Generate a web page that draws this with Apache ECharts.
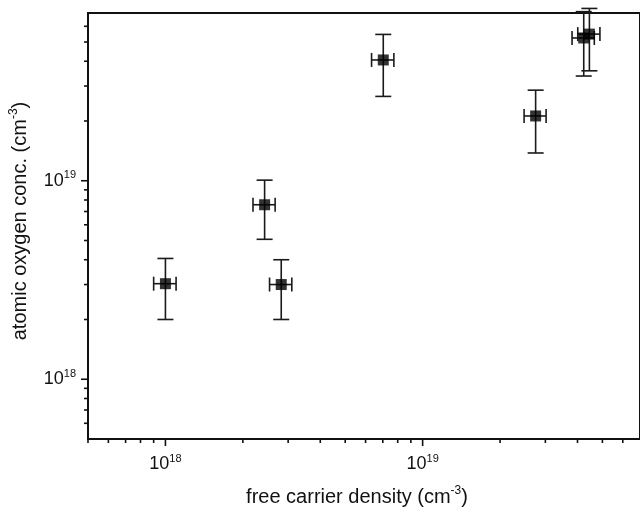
<!DOCTYPE html>
<html><head><meta charset="utf-8">
<script src="https://cdn.jsdelivr.net/npm/echarts@6/dist/echarts.min.js"></script>
<style>html,body{margin:0;padding:0;background:#fff}#c{width:640px;height:514px}</style>
</head><body><div id="c"></div>
<script>
// ---- data ----
const carrierDensity = [1.0e18, 2.43e18, 2.82e18, 7.03e18, 2.75e19, 4.23e19, 4.45e19];
const oxygenConc     = [3.03e18, 7.57e18, 3.0e18, 4.06e19, 2.12e19, 5.24e19, 5.48e19];
const carrierErr     = [0.1e18, 0.24e18, 0.28e18, 0.7e18, 0.27e19, 0.42e19, 0.44e19];
const oxygenErr      = [1.03e18, 2.5e18, 1.0e18, 1.4e19, 0.74e19, 1.87e19, 1.9e19];
const xMin = 5e17, xMax = 7e19, yMin = 5e17, yMax = 7e19;
const xMajorTicks = [1e18, 1e19];
const xMinorTicks = [5e17,6e17,7e17,8e17,9e17,2e18,3e18,4e18,5e18,6e18,7e18,8e18,9e18,2e19,3e19,4e19,5e19,6e19];
const yMajorTicks = [1e18, 1e19];
const yMinorTicks = [6e17,7e17,8e17,9e17,2e18,3e18,4e18,5e18,6e18,7e18,8e18,9e18,2e19,3e19,4e19,5e19,6e19];
const xTitle = ['free carrier density (cm', '-3', ')'];
const yTitle = ['atomic oxygen conc. (cm', '-3', ')'];

const FONT = '"Liberation Sans", Arial, sans-serif';
const INK = '#111';

function powLabel(v) {
  const l = Math.log10(v), e = Math.round(l);
  if (Math.abs(l - e) > 1e-6) return '';
  return '{b|10}{s|' + e + '}';
}
const labelRich = {
  b: {fontSize: 18, fontFamily: FONT, color: INK},
  s: {fontSize: 11, fontFamily: FONT, color: INK, padding: [0, 0, 11, 0]}
};
const nameRich = {
  t: {fontSize: 20, fontFamily: FONT, color: INK},
  s: {fontSize: 12, fontFamily: FONT, color: INK, padding: [0, 0, 13, 0]}
};

const points = carrierDensity.map((x, i) => [x, oxygenConc[i], carrierErr[i], oxygenErr[i]]);
const tickData = [];
xMajorTicks.forEach(v => tickData.push([v, yMin, 0, 1]));
xMinorTicks.forEach(v => tickData.push([v, yMin, 0, 0]));
yMajorTicks.forEach(v => tickData.push([xMin, v, 1, 1]));
yMinorTicks.forEach(v => tickData.push([xMin, v, 1, 0]));

const chart = echarts.init(document.getElementById('c'));
chart.setOption({
  animation: false,
  backgroundColor: '#fff',
  grid: {left: 86, top: 13, right: -6, bottom: 75, show: true, borderColor: INK, borderWidth: 2, backgroundColor: 'transparent'},
  xAxis: {
    type: 'log', logBase: 10, min: xMin, max: xMax,
    axisLine: {show: true, lineStyle: {color: INK, width: 2}},
    axisTick: {show: false}, splitLine: {show: false},
    axisLabel: {formatter: powLabel, rich: labelRich, margin: 14, showMinLabel: false, showMaxLabel: false},
    name: '{t|' + xTitle[0] + '}{s|' + xTitle[1] + '}{t|' + xTitle[2] + '}',
    nameLocation: 'middle', nameGap: 46,
    nameTextStyle: {rich: nameRich, padding: [0, 14, 0, 0]}
  },
  yAxis: {
    type: 'log', logBase: 10, min: yMin, max: yMax,
    axisLine: {show: true, lineStyle: {color: INK, width: 2}},
    axisTick: {show: false}, splitLine: {show: false},
    axisLabel: {formatter: powLabel, rich: labelRich, margin: 12, showMinLabel: false, showMaxLabel: false},
    name: '{t|' + yTitle[0] + '}{s|' + yTitle[1] + '}{t|' + yTitle[2] + '}',
    nameLocation: 'middle', nameGap: 55,
    nameTextStyle: {rich: nameRich, padding: [0, 0, 0, 10]}
  },
  series: [
    {
      type: 'custom', name: 'ticks', data: tickData, clip: false, silent: true, z: 1,
      renderItem: function (params, api) {
        const p = api.coord([api.value(0), api.value(1)]);
        const len = api.value(3) ? 7 : 4;
        const shape = api.value(2)
          ? {x1: p[0], y1: p[1], x2: p[0] - len, y2: p[1]}
          : {x1: p[0], y1: p[1], x2: p[0], y2: p[1] + len};
        return {type: 'line', shape: shape, style: {stroke: INK, lineWidth: 1.6}};
      }
    },
    {
      type: 'custom', name: 'errors', data: points, clip: false, silent: true, z: 2,
      renderItem: function (params, api) {
        const x = api.value(0), y = api.value(1), ex = api.value(2), ey = api.value(3);
        const top = api.coord([x, y + ey]);
        const bot = api.coord([x, y - ey]);
        const lef = api.coord([x - ex, y]);
        const rig = api.coord([x + ex, y]);
        const st = {stroke: '#1a1a1a', lineWidth: 1.6};
        const cw = 8, ch = 7;
        return {type: 'group', children: [
          {type: 'line', shape: {x1: top[0], y1: top[1], x2: bot[0], y2: bot[1]}, style: st},
          {type: 'line', shape: {x1: top[0] - cw, y1: top[1], x2: top[0] + cw, y2: top[1]}, style: st},
          {type: 'line', shape: {x1: bot[0] - cw, y1: bot[1], x2: bot[0] + cw, y2: bot[1]}, style: st},
          {type: 'line', shape: {x1: lef[0], y1: lef[1], x2: rig[0], y2: rig[1]}, style: st},
          {type: 'line', shape: {x1: lef[0], y1: lef[1] - ch, x2: lef[0], y2: lef[1] + ch}, style: st},
          {type: 'line', shape: {x1: rig[0], y1: rig[1] - ch, x2: rig[0], y2: rig[1] + ch}, style: st}
        ]};
      }
    },
    {
      type: 'scatter', name: 'data', data: points.map(p => [p[0], p[1]]),
      symbol: 'rect', symbolSize: 11, itemStyle: {color: '#000'}, z: 3, silent: true
    }
  ]
});
</script>
</body></html>
